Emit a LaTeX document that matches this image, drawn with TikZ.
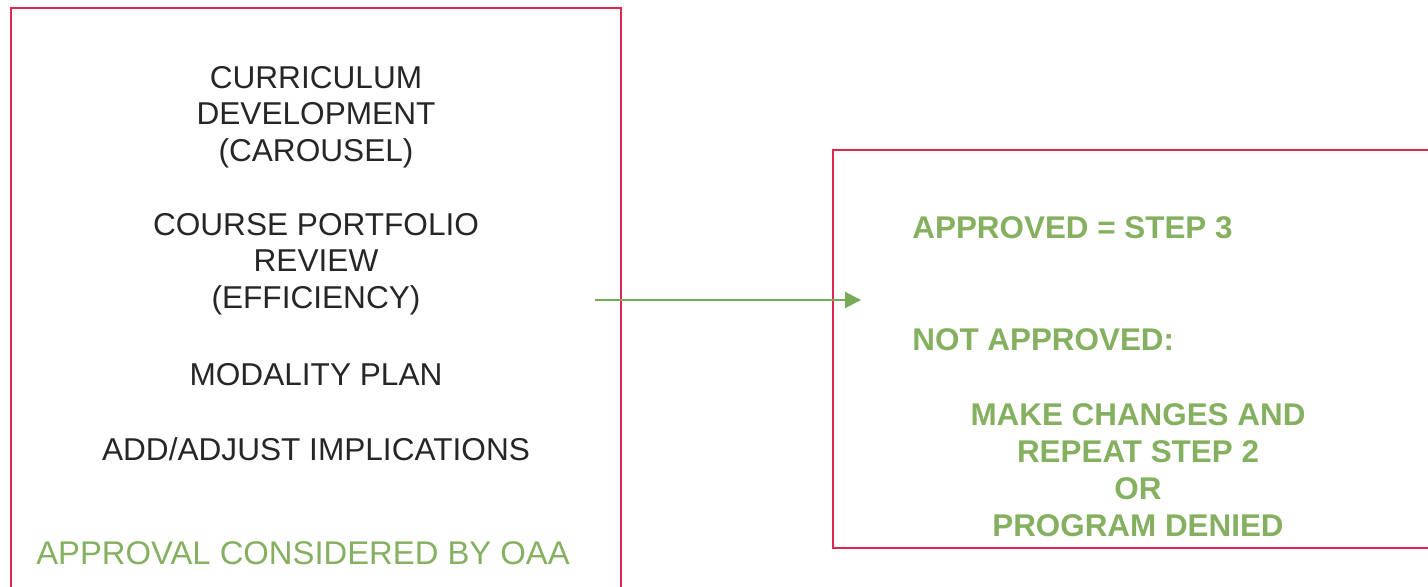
\documentclass[tikz,border=0pt]{standalone}
\usepackage{fontspec}
\setmainfont{Liberation Sans}
\usepackage{xcolor}
\usetikzlibrary{arrows.meta, positioning}

\definecolor{boxred}{RGB}{222,38,78}
\definecolor{okgreen}{RGB}{132,176,96}
\definecolor{arrowgreen}{RGB}{118,170,84}

\begin{document}
\begin{tikzpicture}[x=0.5pt, y=-0.5pt,
    panel/.style={draw=boxred, line width=1pt},
    plaintxt/.style={align=center, text=black!85, font=\fontsize{15.8}{18.3}\selectfont, inner sep=0pt},
    greentxt/.style={align=center, text=okgreen, font=\fontsize{16.4}{18.3}\selectfont, inner sep=0pt},
    boldtxt/.style={align=center, text=okgreen, font=\bfseries\fontsize{15.7}{18.5}\selectfont, inner sep=0pt},
    flow/.style={draw=arrowgreen, line width=1pt, -{Triangle[length=8pt, width=8pt]}}]
        \useasboundingbox (0,0) rectangle (1428,587);
        % Kaesten
        \draw[panel] (11,8) rectangle (621,600);
        \draw[panel] (833,150) rectangle (1440,548);
        % Schritt 2
        \node[plaintxt] (curric) at (316,117) {CURRICULUM\\DEVELOPMENT\\(CAROUSEL)};
        \node[plaintxt] (portfolio) at (316,264) {COURSE PORTFOLIO\\REVIEW\\(EFFICIENCY)};
        \node[plaintxt] (modality) at (316,375) {MODALITY PLAN};
        \node[plaintxt] (adjust) at (316,449) {ADD/ADJUST IMPLICATIONS};
        \node[greentxt] (oaa) at (303,553) {APPROVAL CONSIDERED BY OAA};
        % Ergebnis
        \node[boldtxt, anchor=west] (approved) at (912,228) {APPROVED = STEP 3};
        \node[boldtxt, anchor=west] (notapproved) at (912,340) {NOT APPROVED:};
        \node[boldtxt] (options) at (1138,470) {MAKE CHANGES AND\\REPEAT STEP 2\\OR\\PROGRAM DENIED};
        % Pfeil
        \coordinate (flowstart) at (595,300);
        \coordinate (flowend) at (861,300);
        \draw[flow] (flowstart) -- (flowend);
      \end{tikzpicture}
\end{document}
